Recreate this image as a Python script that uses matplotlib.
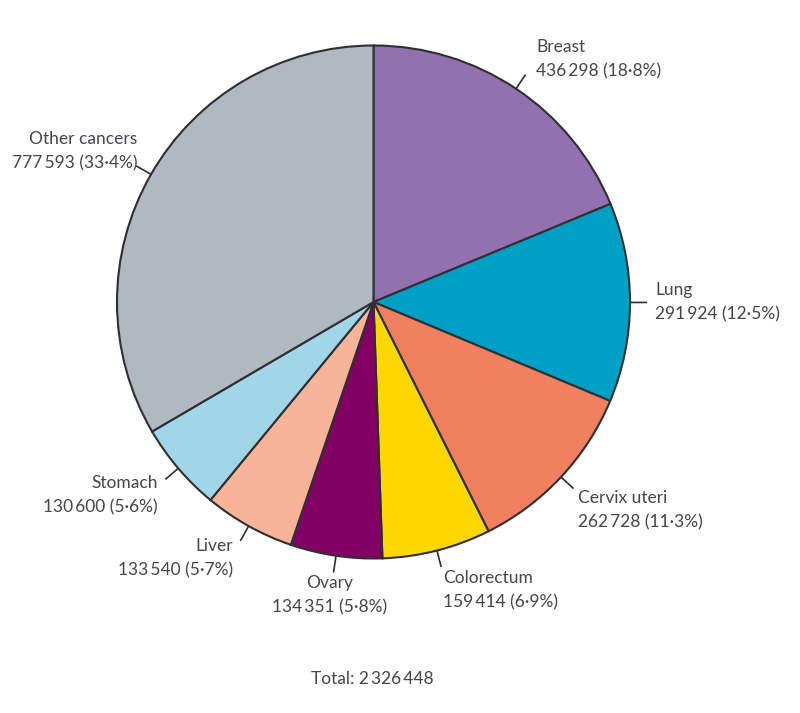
import numpy as np
import matplotlib
matplotlib.use("Agg")
import matplotlib.pyplot as plt

categories = ["Breast", "Lung", "Cervix uteri", "Colorectum", "Ovary", "Liver", "Stomach", "Other cancers"]
values = [436298, 291924, 262728, 159414, 134351, 133540, 130600, 777593]
colors = ["#9370b0", "#00a0c6", "#f08060", "#ffd700", "#820064", "#f8b498", "#a0d6e8", "#b0b8c0"]

# label anchor positions (pixel coords, y from top) and alignment
label_pos = [(536, 47, "left"), (655, 290, "left"), (578, 498, "left"), (443, 578, "left"),
             (330, 583, "center"), (233, 546, "right"), (158, 483, "right"), (137, 139, "right")]

W, H = 800, 713
fig = plt.figure(figsize=(W / 100, H / 100), dpi=100)
ax = fig.add_axes([0, 0, 1, 1])

cx, cy, R = 373.5, H - 302, 256.5
total = sum(values)
wedges, _ = ax.pie(values, colors=colors, startangle=90, counterclock=False,
                   center=(cx, cy), radius=R,
                   wedgeprops=dict(edgecolor="#2f2f33", linewidth=1.5))
ax.set_xlim(0, W)
ax.set_ylim(0, H)
ax.set_aspect("equal")
ax.axis("off")

txtcolor = "#45454d"
fam = ["Lato", "DejaVu Sans"]
fs = 12.5

def fmt(n):
    return f"{n:,}".replace(",", "\u2009")

for w, cat, val, (lx, ly, ha) in zip(wedges, categories, values, label_pos):
    mid = np.deg2rad((w.theta1 + w.theta2) / 2)
    x0, y0 = cx + R * np.cos(mid), cy + R * np.sin(mid)
    x1, y1 = cx + (R + 17) * np.cos(mid), cy + (R + 17) * np.sin(mid)
    ax.plot([x0, x1], [y0, y1], color="#2f2f33", lw=1.2, solid_capstyle="butt")
    pct = f"{100 * val / total:.1f}".replace(".", "\u00b7")
    ax.text(lx, H - ly, cat, ha=ha, va="center", fontsize=fs, color=txtcolor, family=fam)
    ax.text(lx, H - ly - 24, f"{fmt(val)} ({pct}%)", ha=ha, va="center",
            fontsize=fs, color=txtcolor, family=fam)

ax.text(372, H - 679, f"Total: {fmt(total)}", ha="center", va="center",
        fontsize=fs, color=txtcolor, family=fam)

fig.savefig("out.png", dpi=100, facecolor="white")
